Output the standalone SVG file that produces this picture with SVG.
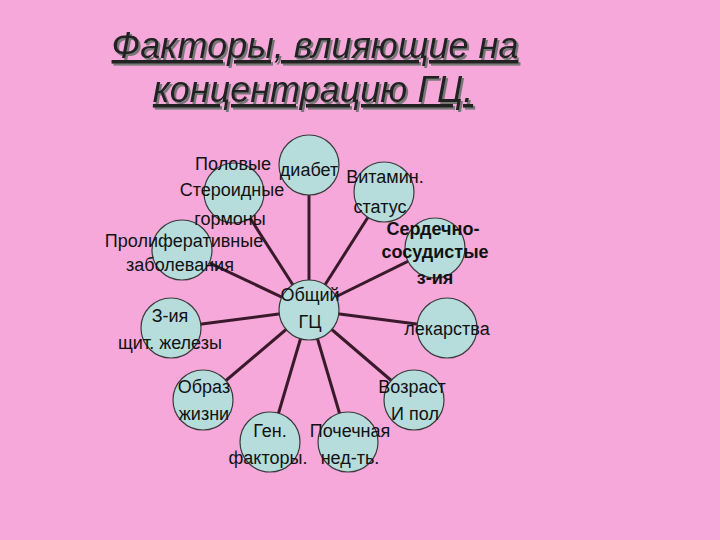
<svg xmlns="http://www.w3.org/2000/svg" width="720" height="540" viewBox="0 0 720 540">
<defs><filter id="sh" x="-5%" y="-20%" width="110%" height="140%"><feDropShadow dx="2" dy="2" stdDeviation="0.5" flood-color="#777"/></filter></defs>
<style>
.n{fill:#b6dcdc;stroke:#3a3a3a;stroke-width:1.2}
.t{font-family:"Liberation Sans",Arial,sans-serif;font-size:18px;fill:#111;text-anchor:middle}
.b{font-weight:bold}
.h{font-family:"Liberation Sans",Arial,sans-serif;font-size:36px;font-style:italic;text-decoration:underline;text-anchor:middle;fill:#222;filter:url(#sh)}
#c line{stroke:#3a1a2a;stroke-width:3}
</style>
<rect width="720" height="540" fill="#f5a8d9"/>
<g id="title">
<text class="h" x="315" y="58">Факторы, влияющие на</text>
<text class="h" x="313" y="102">концентрацию ГЦ.</text>
</g>
<g id="c">
<line x1="309" y1="310" x2="309" y2="165"/>
<line x1="309" y1="310" x2="384" y2="192"/>
<line x1="309" y1="310" x2="234" y2="193"/>
<line x1="309" y1="310" x2="182" y2="250"/>
<line x1="309" y1="310" x2="435" y2="248"/>
<line x1="309" y1="310" x2="171" y2="328"/>
<line x1="309" y1="310" x2="447" y2="328"/>
<line x1="309" y1="310" x2="203" y2="400"/>
<line x1="309" y1="310" x2="414" y2="400"/>
<line x1="309" y1="310" x2="270" y2="442"/>
<line x1="309" y1="310" x2="348" y2="442"/>
</g>
<g id="n1"><circle class="n" cx="309" cy="165" r="30"/></g>
<g id="n2"><circle class="n" cx="384" cy="192" r="30"/></g>
<g id="n3"><circle class="n" cx="234" cy="193" r="30"/></g>
<g id="n4"><circle class="n" cx="182" cy="250" r="30"/></g>
<g id="n5"><circle class="n" cx="435" cy="248" r="30"/></g>
<g id="n6"><circle class="n" cx="171" cy="328" r="30"/></g>
<g id="n7"><circle class="n" cx="447" cy="328" r="30"/></g>
<g id="n8"><circle class="n" cx="203" cy="400" r="30"/></g>
<g id="n9"><circle class="n" cx="414" cy="400" r="30"/></g>
<g id="n10"><circle class="n" cx="270" cy="442" r="30"/></g>
<g id="n11"><circle class="n" cx="348" cy="442" r="30"/></g>
<g id="center"><circle class="n" cx="309" cy="310" r="30"/></g>
<g id="labels">
<text class="t" x="233" y="170">Половые</text>
<text class="t" x="309" y="176">диабет</text>
<text class="t" x="385" y="183">Витамин.</text>
<text class="t" x="232" y="196">Стероидные</text>
<text class="t" x="380" y="213">статус</text>
<text class="t" x="230" y="225">гормоны</text>
<text class="t b" x="433" y="235">Сердечно-</text>
<text class="t" x="184" y="247">Пролиферативные</text>
<text class="t b" x="435" y="258">сосудистые</text>
<text class="t" x="180" y="271">заболевания</text>
<text class="t b" x="435" y="284">з-ия</text>
<text class="t" x="310" y="301">Общий</text>
<text class="t" x="310" y="328">ГЦ</text>
<text class="t" x="170" y="322">З-ия</text>
<text class="t" x="447" y="335">лекарства</text>
<text class="t" x="170" y="349">щит. железы</text>
<text class="t" x="204" y="393">Образ</text>
<text class="t" x="412" y="393">Возраст</text>
<text class="t" x="204" y="420">жизни</text>
<text class="t" x="415" y="420">И пол</text>
<text class="t" x="270" y="437">Ген.</text>
<text class="t" x="350" y="437">Почечная</text>
<text class="t" x="268" y="464">факторы.</text>
<text class="t" x="350" y="464">нед-ть.</text>
</g>
</svg>
